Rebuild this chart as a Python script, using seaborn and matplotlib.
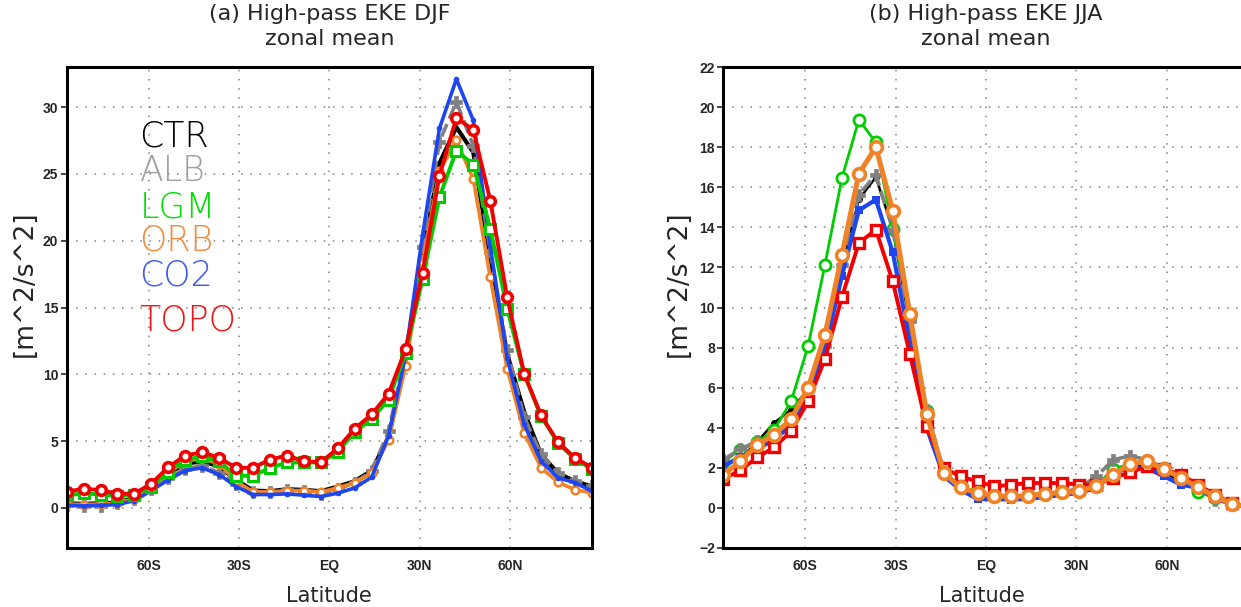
import numpy as np
import pandas as pd
import matplotlib
matplotlib.use("Agg")
import matplotlib.pyplot as plt
import seaborn as sns

# latitude grid (32 points, south to north)
lat = [-87.19, -81.56, -75.94, -70.31, -64.69, -59.06, -53.44, -47.81,
       -42.19, -36.56, -30.94, -25.31, -19.69, -14.06, -8.44, -2.81,
       2.81, 8.44, 14.06, 19.69, 25.31, 30.94, 36.56, 42.19,
       47.81, 53.44, 59.06, 64.69, 70.31, 75.94, 81.56, 87.19]

# (a) DJF zonal mean high-pass EKE
djf_ctr = [0.35, 0.3, 0.35, 0.4, 0.75, 1.6, 2.6, 3.3, 3.5, 3.1, 2.1, 1.3, 1.25, 1.4, 1.35, 1.25,
           1.6, 2.0, 2.8, 5.3, 11.1, 18.8, 25.8, 28.5, 26.6, 18.7, 11.5, 7.2, 4.0, 2.6, 2.0, 1.6]
djf_alb = [0.25, 0.17, 0.17, 0.37, 0.67, 1.42, 2.25, 2.92, 3.17, 2.62, 1.82, 1.17, 1.17, 1.32, 1.25, 1.07,
           1.4, 1.9, 2.75, 5.75, 11.6, 19.55, 27.4, 30.4, 27.1, 19.2, 11.8, 6.83, 4.0, 2.62, 2.0, 1.67]
djf_lgm = [0.93, 1.1, 1.0, 0.87, 1.0, 1.6, 2.72, 3.6, 3.85, 3.5, 2.4, 2.4, 3.0, 3.4, 3.4, 3.4,
           4.2, 5.67, 6.67, 8.1, 11.6, 17.1, 23.25, 26.75, 25.7, 20.9, 14.9, 10.0, 6.85, 4.85, 3.65, 2.9]
djf_orb = [0.3, 0.25, 0.3, 0.35, 0.7, 1.5, 2.6, 3.5, 3.7, 3.3, 2.0, 1.2, 1.2, 1.3, 1.3, 1.2,
           1.5, 1.9, 2.6, 5.1, 10.6, 18.3, 25.2, 27.5, 24.6, 17.25, 10.4, 5.62, 3.0, 1.92, 1.37, 1.12]
djf_co2 = [0.2, 0.15, 0.2, 0.25, 0.55, 1.3, 2.1, 2.8, 3.0, 2.5, 1.6, 1.0, 1.0, 1.05, 0.95, 0.85,
           1.1, 1.5, 2.3, 5.4, 11.4, 20.4, 28.4, 32.1, 29.0, 19.6, 11.2, 6.25, 3.5, 2.25, 1.9, 1.25]
djf_topo = [1.2, 1.45, 1.32, 1.07, 1.07, 1.82, 3.05, 3.92, 4.17, 3.75, 3.0, 3.0, 3.62, 3.92, 3.5, 3.42,
            4.45, 5.93, 7.0, 8.55, 11.87, 17.58, 24.88, 29.18, 28.3, 23.0, 15.75, 10.05, 6.92, 4.92, 3.75, 3.0]

# (b) JJA zonal mean high-pass EKE
jja_ctr = [1.5, 2.45, 3.3, 4.24, 4.9, 5.9, 8.2, 12.0, 15.4, 16.5, 13.9, 9.2, 4.6, 1.8, 1.0, 0.7,
           0.5, 0.5, 0.55, 0.65, 0.7, 0.8, 1.05, 1.8, 2.1, 2.1, 1.8, 1.3, 1.0, 0.5, 0.2, 0.05]
jja_alb = [2.4, 2.94, 3.32, 3.49, 3.99, 5.4, 8.06, 12.14, 15.63, 16.63, 13.88, 9.31, 4.9, 1.8, 1.0, 0.8,
           0.6, 0.55, 0.6, 0.7, 0.75, 1.0, 1.57, 2.4, 2.6, 2.4, 2.0, 1.55, 1.0, 0.41, 0.2, 0.05]
jja_lgm = [2.3, 2.9, 3.27, 3.9, 5.31, 8.06, 12.14, 16.46, 19.37, 18.24, 13.9, 9.56, 4.82, 1.82, 1.07, 0.82,
           0.65, 0.6, 0.65, 0.75, 0.8, 0.85, 1.1, 1.94, 2.2, 2.3, 2.0, 1.6, 0.8, 0.5, 0.2, 0.05]
jja_orb = [1.66, 2.32, 3.15, 3.65, 4.43, 5.98, 8.64, 12.63, 16.68, 18.0, 14.83, 9.69, 4.7, 1.74, 1.02, 0.74,
           0.61, 0.57, 0.61, 0.71, 0.77, 0.82, 1.11, 1.66, 2.2, 2.32, 1.94, 1.49, 1.04, 0.57, 0.21, 0.05]
jja_co2 = [2.07, 2.54, 2.94, 3.4, 4.15, 5.65, 7.9, 11.59, 14.85, 15.38, 12.75, 8.31, 3.99, 1.6, 0.9, 0.44,
           0.44, 0.42, 0.45, 0.55, 0.65, 0.75, 1.0, 1.74, 1.99, 1.99, 1.57, 1.16, 1.0, 0.5, 0.2, 0.05]
jja_topo = [1.44, 1.87, 2.52, 3.02, 3.82, 5.31, 7.43, 10.52, 13.22, 13.88, 11.3, 7.69, 4.07, 1.99, 1.57, 1.32,
            1.07, 1.16, 1.24, 1.24, 1.24, 1.16, 1.16, 1.49, 1.77, 2.07, 1.94, 1.66, 1.16, 0.66, 0.24, 0.0]

names = ["CTR", "ALB", "LGM", "ORB", "CO2", "TOPO"]
colors = {"CTR": "black", "ALB": "#808080", "LGM": "#00cc00",
          "ORB": "#f08228", "CO2": "#1e46f0", "TOPO": "#f00000"}
text_colors = {"CTR": "black", "ALB": "#a0a0a0", "LGM": "#00dd00",
               "ORB": "#f08a3c", "CO2": "#3c5af0", "TOPO": "#f01414"}

xticks = [-60, -30, 0, 30, 60]
xticklabels = ["60S", "30S", "EQ", "30N", "60N"]

sns.set_style("white")
plt.rcParams["font.family"] = ["DejaVu Sans"]

fig = plt.figure(figsize=(12.41, 6.07), dpi=100)
ax_a = fig.add_axes([0.0537, 0.0972, 0.4233, 0.7924])
ax_b = fig.add_axes([0.5828, 0.0972, 0.4172, 0.7924])

# per-series look: (lw, ls, marker, ms, mfc, mew)
style_a = {
    "CTR": (3.0, "-", "None", 0, "black", 0),
    "ALB": (2.6, "--", "P", 8, "#808080", 0.5),
    "ORB": (2.6, "-", "o", 5.5, "white", 1.8),
    "CO2": (2.6, "-", "o", 4, "#1e46f0", 0),
    "LGM": (2.8, "-", "s", 6.5, "white", 2.2),
    "TOPO": (2.8, "-", "o", 7, "white", 2.6),
}
style_b = {
    "CTR": (1.8, "-", "o", 5, "black", 0),
    "LGM": (2.0, "-", "o", 8, "white", 2.0),
    "ALB": (2.6, "--", "P", 8, "#808080", 0.5),
    "CO2": (3.0, "-", "s", 6, "#1e46f0", 0),
    "TOPO": (2.8, "-", "s", 7, "white", 2.4),
    "ORB": (3.6, "-", "o", 8.5, "white", 2.6),
}

data_a = {"CTR": djf_ctr, "ALB": djf_alb, "LGM": djf_lgm, "ORB": djf_orb, "CO2": djf_co2, "TOPO": djf_topo}
data_b = {"CTR": jja_ctr, "ALB": jja_alb, "LGM": jja_lgm, "ORB": jja_orb, "CO2": jja_co2, "TOPO": jja_topo}


def draw(ax, data, styles):
    for name, (lw, ls, mk, ms, mfc, mew) in styles.items():
        sns.lineplot(x=lat, y=data[name], ax=ax, color=colors[name], linewidth=lw,
                     linestyle=ls, marker=mk, markersize=ms, markerfacecolor=mfc,
                     markeredgecolor=colors[name], markeredgewidth=mew, clip_on=True)


draw(ax_a, data_a, style_a)
draw(ax_b, data_b, style_b)

ax_a.set_xlim(-87.19, 87.19)
ax_a.set_ylim(-3, 33)
ax_a.set_yticks(range(0, 31, 5))
ax_b.set_xlim(-87.19, 84.6)
ax_b.set_ylim(-2, 22)
ax_b.set_yticks(range(-2, 23, 2))
ax_b.spines["right"].set_visible(False)

grid_kw = dict(color="#808080", linewidth=1.1, linestyle=(0, (1, 5)))
for ax in (ax_a, ax_b):
    ax.set_xticks(xticks)
    ax.set_xticklabels(xticklabels)
    ax.grid(True, **grid_kw)
    ax.set_axisbelow(True)
    ax.tick_params(axis="x", length=0, pad=8)
    ax.tick_params(axis="y", length=4, width=1.2, direction="out", left=True, pad=2)
    for lab in ax.get_xticklabels() + ax.get_yticklabels():
        lab.set_fontweight("bold")
        lab.set_fontfamily("Liberation Sans")
        lab.set_fontsize(10)
    ax.set_xlabel("Latitude", fontsize=15, labelpad=9)
    ax.set_ylabel("[m^2/s^2]", fontsize=19, labelpad=0)
    for sp in ax.spines.values():
        sp.set_color("black")
        sp.set_linewidth(2.2)

ax_a.yaxis.set_label_coords(-0.056, 0.55)
ax_b.yaxis.set_label_coords(-0.06, 0.55)

fig.text(0.0537 + 0.4233 / 2, 0.993, "(a) High-pass EKE DJF\nzonal mean", fontsize=16,
         linespacing=1.3, ha="center", va="top")
fig.text(0.5828 + 0.4233 / 2, 0.993, "(b) High-pass EKE JJA\nzonal mean", fontsize=16,
         linespacing=1.3, ha="center", va="top")

# coloured text legend in panel (a)
legend_y = [27.8, 25.2, 22.5, 20.0, 17.4, 14.0]
for name, yv in zip(names, legend_y):
    ax_a.text(-63, yv, name, color=text_colors[name], fontsize=25, fontweight="light",
              va="center", ha="left")

fig.savefig("out.png", dpi=100)
